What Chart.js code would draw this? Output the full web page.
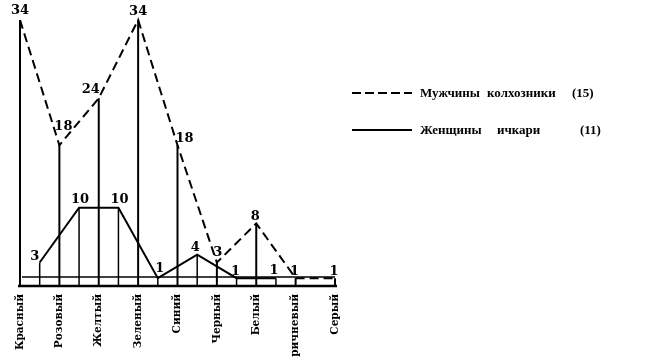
<!DOCTYPE html>
<html><head><meta charset="utf-8">
<script src="https://cdn.jsdelivr.net/npm/chart.js@4/dist/chart.umd.min.js"></script>
<style>
html,body{margin:0;padding:0;background:#fff;}
#wrap{position:relative;width:655px;height:357px;overflow:hidden;background:#fff;}
#c{position:absolute;left:0;top:0;}
.lg{position:absolute;font:bold 13px "Liberation Serif",serif;color:#000;white-space:nowrap;line-height:12px;}
#lgsvg{position:absolute;left:350px;top:85px;}
</style></head><body>
<div id="wrap">
<canvas id="c" width="655" height="357"></canvas>
<svg id="lgsvg" width="70" height="52">
  <line x1="2" y1="8" x2="62" y2="8" stroke="#000" stroke-width="2" stroke-dasharray="9,4"/>
  <line x1="2" y1="45" x2="62" y2="45" stroke="#000" stroke-width="2"/>
</svg>
<span class="lg" style="left:420px;top:87px">Мужчины</span>
<span class="lg" style="left:487px;top:87px">колхозники</span>
<span class="lg" style="left:572px;top:87px">(15)</span>
<span class="lg" style="left:420px;top:124px">Женщины</span>
<span class="lg" style="left:497px;top:124px">ичкари</span>
<span class="lg" style="left:580px;top:124px">(11)</span>
</div>
<script>
const categories = ['Красный','Розовый','Желтый','Зеленый','Синий','Черный','Белый','Коричневый','Серый'];
const menValues = [34, 18, 24, 34, 18, 3, 8, 1, 1];
const womenValues = [3, 10, 10, 1, 4, 1, 1];
const womenShift = 0.5; // women's points sit between the category columns

// label nudges (style only)
const menLabelDx = [0, 4, -8, 0, 7, 1, -1, -1, -1];
const menLabelDy = [-6, -15, -5, -5, -3, -7, -3, -3, -3];
const womenLabelDx = [-5, 1, 1, 2, -2, -1, -2];
const womenLabelDy = [-3, -5, -5, -6, -4, -3, -4];

const menData = menValues.map((v, i) => ({x: i, y: v}));
const womenData = womenValues.map((v, i) => ({x: i + womenShift, y: v}));

const decor = {
  id: 'decor',
  afterDatasetsDraw(chart) {
    const {ctx, scales: {x, y}} = chart;
    const y0 = y.getPixelForValue(0);
    ctx.save();
    ctx.strokeStyle = '#000';
    ctx.fillStyle = '#000';
    ctx.setLineDash([]);
    chart.data.datasets.forEach((ds, di) => {
      const meta = chart.getDatasetMeta(di);
      ctx.lineWidth = ds.dropWidth;
      meta.data.forEach(pt => {
        ctx.beginPath();
        ctx.moveTo(pt.x, pt.y);
        ctx.lineTo(pt.x, y0);
        ctx.stroke();
      });
    });
    ctx.lineWidth = 2.5;
    ctx.beginPath();
    ctx.moveTo(x.left - 2, y0);
    ctx.lineTo(x.right + 2, y0);
    ctx.stroke();
    ctx.lineWidth = 1.5;
    ctx.beginPath();
    ctx.moveTo(x.left + 2, y0 - 9);
    ctx.lineTo(x.right, y0 - 9);
    ctx.stroke();
    ctx.font = 'bold 13px "DejaVu Serif", serif';
    ctx.textAlign = 'center';
    ctx.textBaseline = 'alphabetic';
    chart.data.datasets.forEach((ds, di) => {
      const meta = chart.getDatasetMeta(di);
      meta.data.forEach((pt, i) => {
        const v = ds.data[i].y;
        ctx.fillText(String(v), pt.x + ds.labelDx[i], pt.y + ds.labelDy[i]);
      });
    });
    ctx.restore();
  }
};

new Chart(document.getElementById('c'), {
  type: 'line',
  data: {
    datasets: [
      {
        label: 'Мужчины колхозники (15)',
        data: menData,
        borderColor: '#000',
        borderWidth: 2,
        borderDash: [9, 5],
        pointRadius: 0,
        tension: 0,
        fill: false,
        clip: false,
        dropWidth: 2,
        labelDx: menLabelDx,
        labelDy: menLabelDy
      },
      {
        label: 'Женщины ичкари (11)',
        data: womenData,
        borderColor: '#000',
        borderWidth: 2,
        pointRadius: 0,
        tension: 0,
        fill: false,
        clip: false,
        dropWidth: 1.5,
        labelDx: womenLabelDx,
        labelDy: womenLabelDy
      }
    ]
  },
  options: {
    responsive: false,
    animation: false,
    devicePixelRatio: 1,
    layout: {padding: {left: 20, right: 320, top: 20, bottom: 0}},
    plugins: {legend: {display: false}, tooltip: {enabled: false}},
    scales: {
      x: {
        type: 'linear',
        min: 0,
        max: categories.length - 1,
        grid: {display: false},
        border: {display: false},
        afterFit: s => { s.height = 71; },
        afterBuildTicks: s => { s.ticks = categories.map((c, i) => ({value: i})); },
        ticks: {
          autoSkip: false,
          minRotation: 90,
          maxRotation: 90,
          padding: 0,
          color: '#000',
          font: {family: '"DejaVu Serif", serif', size: 10.5, weight: 'bold'},
          callback: v => categories[v] ?? ''
        }
      },
      y: {
        display: false,
        min: 0,
        max: 34
      }
    }
  },
  plugins: [decor]
});
</script>
</body></html>
